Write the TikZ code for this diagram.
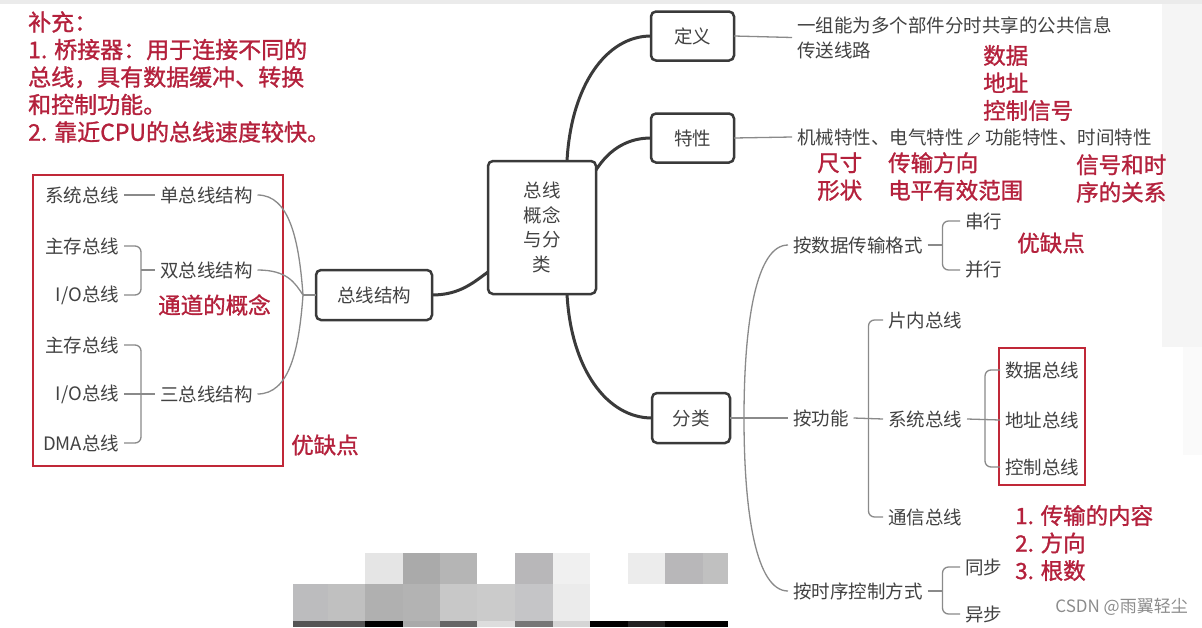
\documentclass[tikz,border=0pt]{standalone}
\usepackage{fontspec}
\setmainfont{Noto Sans CJK SC}
\newfontfamily\redfont[FakeBold=1.2]{Noto Sans CJK SC}
\usetikzlibrary{calc}
\definecolor{txt}{HTML}{424242}
\definecolor{ln}{HTML}{8A8A8A}
\definecolor{dk}{HTML}{3A3A3A}
\definecolor{rd}{HTML}{B4213C}
\definecolor{rbox}{HTML}{C02838}
\newcommand\fsz[2]{\fontsize{#1}{#2}\selectfont}
\tikzset{
  gt/.style={text=txt, font=\fsz{18.5}{25}, inner xsep=5pt, inner ysep=1pt, outer sep=0pt},
  rt/.style={text=rd, font=\redfont\fsz{22.5}{27.5}, inner sep=0pt, align=left, anchor=west},
  mbox/.style={draw=dk, line width=2.5pt, rounded corners=5pt, text=txt, font=\fsz{18.5}{24.5}, inner sep=0pt, outer sep=0pt, align=center},
  conn/.style={draw=dk, line width=3pt},
  thinl/.style={draw=ln, line width=1.3pt},
  rframe/.style={draw=rbox, line width=2.2pt},
}
\begin{document}
\begin{tikzpicture}[x=1pt,y=-1pt]
\useasboundingbox (0,0) rectangle (1202,627);
\fill[white] (0,0) rectangle (1202,627);
\fill[black!8] (0,0) rectangle (1202,4);
\fill[black!4] (1162,4) rectangle (1202,347);
\fill[black!2] (1183,347) rectangle (1202,455);

% mosaic
\foreach \xa/\xb/\c in {365/403/E5E5E5,403/440/AAAAAA,440/477/B5B5B5,515/553/B8B7B9,553/590/F0F0F0,628/665/ECECEC,665/703/B8B7B9,703/728/C0C0C0}
  {\definecolor{mc}{HTML}{\c}\fill[mc] (\xa,553) rectangle (\xb,584);}
\foreach \xa/\xb/\c in {293/328/BCBCBE,328/365/C0C0C0,365/403/B0B0B0,403/440/B3B3B3,440/477/C8C8C8,477/515/CBCBCB,515/553/C5C5C7,553/590/EBEBEB}
  {\definecolor{mc}{HTML}{\c}\fill[mc] (\xa,584) rectangle (\xb,621);}
\foreach \xa/\xb/\c in {293/365/555555,365/403/000000,403/440/AAAAAA,440/477/666666,477/515/DDDDDD,515/553/777777,553/590/D5D5D5,590/628/000000,628/665/222222,665/728/000000}
  {\definecolor{mc}{HTML}{\c}\fill[mc] (\xa,621) rectangle (\xb,627);}

% top-left note
\node[rt, font=\redfont\fsz{23}{27.5}] (note) at (28,77) {补充：\\1. 桥接器：用于连接不同的\\总线，具有数据缓冲、转换\\和控制功能。\\2. 靠近CPU的总线速度较快。};

% left frame
\draw[rframe] (33,175) rectangle (283,466);
\node[gt, anchor=east] (xt) at (124,195) {系统总线};
\node[gt, anchor=west] (dan) at (155,195) {单总线结构};
\node[gt, anchor=east] (zc1) at (124,246) {主存总线};
\node[gt, anchor=east] (io1) at (124,295) {I/O总线};
\node[gt, anchor=west] (shuang) at (155,270) {双总线结构};
\node[rt] (tongdao) at (158,305) {通道的概念};
\node[gt, anchor=east] (zc2) at (124,345) {主存总线};
\node[gt, anchor=east] (io2) at (124,394) {I/O总线};
\node[gt, anchor=east] (dma) at (124,443) {DMA总线};
\node[gt, anchor=west] (san) at (155,394) {三总线结构};
\node[rt] (yq1) at (291,445) {优缺点};

\draw[thinl] (xt.east) -- (dan.west);
\coordinate (bl1) at ($(shuang.west)+(-14,0)$);
\draw[thinl, rounded corners=6] (zc1.east) -| (bl1) |- (io1.east);
\draw[thinl] (bl1) -- (shuang.west);
\coordinate (bl2) at ($(san.west)+(-14,0)$);
\draw[thinl, rounded corners=6] (zc2.east) -| (bl2) |- (dma.east);
\draw[thinl] (io2.east) -- (san.west);

% main boxes
\node[mbox, minimum width=116, minimum height=50] (zjg) at (374,295) {总线结构};
\node[mbox, minimum width=108, minimum height=133] (ctr) at (542,227.5) {总线\\概念\\与分\\类};
\node[mbox, minimum width=83, minimum height=49] (dy) at (692.5,36) {定义};
\node[mbox, minimum width=83, minimum height=49] (tx) at (692.5,138) {特性};
\node[mbox, minimum width=78, minimum height=50] (fl) at (691,418) {分类};

\coordinate (jl) at ($(zjg.west)+(-13,0)$);
\draw[thinl] (jl) -- (zjg.west);
\draw[thinl] (dan.east) .. controls +(32,0) and +(-4,-55) .. (jl);
\draw[thinl] (shuang.east) .. controls +(30,0) and +(-8,-12) .. (jl);
\draw[thinl] (san.east) .. controls +(32,0) and +(-4,55) .. (jl);

\draw[conn] (zjg.east) .. controls +(28,0) and +(-14,10) .. ($(ctr.west)+(0,44.5)$);
\draw[conn] ($(ctr.north)+(25,0)$) .. controls +(4,-75) and +(-45,0) .. (dy.west);
\draw[conn] ($(ctr.north east)+(0,9)$) .. controls +(14,-22) and +(-22,0) .. (tx.west);
\draw[conn] ($(ctr.south)+(25,0)$) .. controls +(4,75) and +(-45,0) .. (fl.west);

% definition
\node[gt, anchor=west, align=left] (def) at (792,37.5) {一组能为多个部件分时共享的公共信息\\传送线路};
\draw[thinl] (dy.east) -- (def.west);
\node[rt] (sjdz) at (983,83) {数据\\地址\\控制信号};

% features
\node[gt, anchor=west] (feat1) at (792,137) {机械特性、电气特性};
\node[gt, anchor=west] (feat2) at (980,137) {功能特性、时间特性};
\draw[thinl] (tx.east) -- (feat1.west);
\draw[draw=txt, line width=0.9pt, line join=round] (968,145) -- (969.5,140.5) -- (977,133) -- (979.5,135.5) -- (972,143) -- cycle;
\node[rt] (cc) at (817,176.5) {尺寸\\形状};
\node[rt] (cs) at (888,176.5) {传输方向\\电平有效范围};
\node[rt] (xh) at (1076,178.5) {信号和时\\序的关系};

% classification
\node[gt, anchor=west] (asj) at (788,245) {按数据传输格式};
\node[gt, anchor=west] (anf) at (788,418) {按功能};
\node[gt, anchor=west] (asx) at (788,591) {按时序控制方式};
\draw[thinl] (fl.east) -- (anf.west);
\coordinate (am) at ($(fl.east)+(14,0)$);
\draw[thinl] (asj.west) .. controls +(-32,0) and +(0,-95) .. (am) .. controls +(0,95) and +(-32,0) .. (asx.west);

\node[gt, anchor=west] (cx) at (960,221) {串行};
\node[gt, anchor=west] (bx) at (960,270) {并行};
\node[rt] (yq2) at (1017,243) {优缺点};
\coordinate (b1) at ($(asj.east)+(15,0)$);
\draw[thinl] (asj.east) -- (b1);
\draw[thinl, rounded corners=6] (cx.west) -| (b1) |- (bx.west);

\node[gt, anchor=west] (pn) at (883,320) {片内总线};
\node[gt, anchor=west] (xtz) at (883,419) {系统总线};
\node[gt, anchor=west] (txz) at (883,517) {通信总线};
\coordinate (b2) at ($(anf.east)+(15,0)$);
\draw[thinl] (anf.east) -- (xtz.west);
\draw[thinl, rounded corners=6] (pn.west) -| (b2) |- (txz.west);

\draw[rframe] (999,348) rectangle (1085,485);
\node[gt, anchor=west] (sj) at (1000,370) {数据总线};
\node[gt, anchor=west] (dz) at (1000,420) {地址总线};
\node[gt, anchor=west] (kz) at (1000,467) {控制总线};
\coordinate (b3) at ($(xtz.east)+(18,0)$);
\draw[thinl] (xtz.east) -- (dz.west);
\draw[thinl, rounded corners=6] (sj.west) -| (b3) |- (kz.west);

\node[rt] (nr) at (1015,543) {1. 传输的内容\\2. 方向\\3. 根数};

\node[gt, anchor=west] (tb) at (960,567) {同步};
\node[gt, anchor=west] (yb) at (960,614) {异步};
\coordinate (b4) at ($(asx.east)+(15,0)$);
\draw[thinl] (asx.east) -- (b4);
\draw[thinl, rounded corners=6] (tb.west) -| (b4) |- (yb.west);

\node[text=black!45, font=\fsz{17}{20}, inner sep=0pt, anchor=east] (wm) at (1188,607) {CSDN @雨翼轻尘};
\end{tikzpicture}
\end{document}
